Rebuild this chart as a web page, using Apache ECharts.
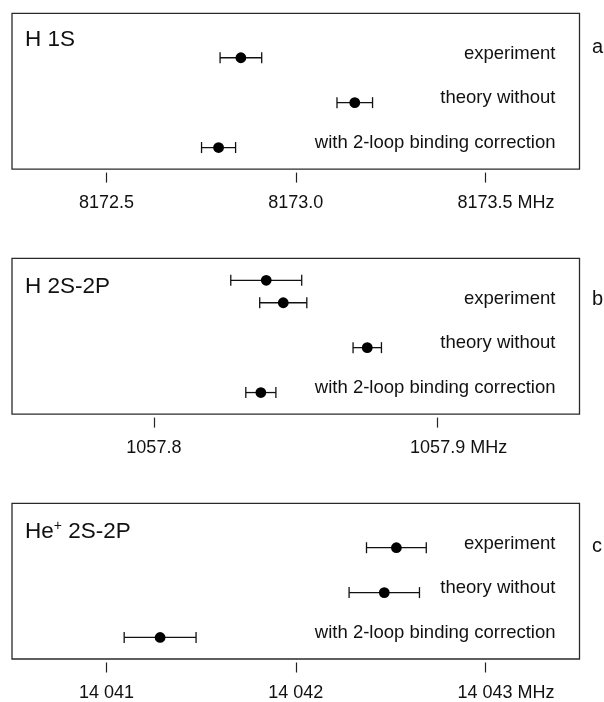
<!DOCTYPE html>
<html>
<head>
<meta charset="utf-8">
<script src="https://cdn.jsdelivr.net/npm/echarts@6/dist/echarts.min.js"></script>
<style>
html,body{margin:0;padding:0;background:#fff;}
#chart{width:604px;height:702px;}
</style>
</head>
<body>
<div id="chart"></div>
<script>
// ---- data ----
const rowLabels = ['experiment', 'theory without', 'with 2-loop binding correction'];
const labelRows = [2, 1, 0];
const unit = 'MHz';

// panel a: H 1S
const aTitle = 'H 1S';
const aRows = [2, 1, 0];
const aValues = [8172.855, 8173.156, 8172.796];
const aErrors = [0.055, 0.047, 0.045];
const aTicks = [8172.5, 8173.0, 8173.5];
const aTickLabels = ['8172.5', '8173.0', '8173.5'];
const aRange = [8172.25, 8173.75];

// panel b: H 2S-2P
const bTitle = 'H 2S-2P';
const bRows = [2.5, 2, 1, 0];
const bValues = [1057.8396, 1057.8456, 1057.8752, 1057.8377];
const bErrors = [0.0125, 0.0083, 0.0050, 0.0053];
const bTicks = [1057.8, 1057.9];
const bTickLabels = ['1057.8', '1057.9'];
const bRange = [1057.75, 1057.95];

// panel c: He+ 2S-2P
const cTitle = 'He{sup|+} 2S-2P';
const cRows = [2, 1, 0];
const cValues = [14042.532, 14042.468, 14041.283];
const cErrors = [0.158, 0.186, 0.190];
const cTicks = [14041, 14042, 14043];
const cTickLabels = ['14 041', '14 042', '14 043'];
const cRange = [14040.5, 14043.5];

const panelLetters = ['a', 'b', 'c'];

// ---- layout / style ----
const FONT = '"Liberation Sans", Arial, Helvetica, sans-serif';
const INK = '#111';
const gridTops = [13.3, 258.3, 503.3];
const gridH = 155.8;
const titleTops = [28.5, 275, 519];
const letterTops = [37.5, 289.5, 536.5];
const rowMin = -0.48, rowMax = 2.99;

const panels = [
  {title: aTitle, rows: aRows, values: aValues, errors: aErrors, ticks: aTicks, tickLabels: aTickLabels, range: aRange},
  {title: bTitle, rows: bRows, values: bValues, errors: bErrors, ticks: bTicks, tickLabels: bTickLabels, range: bRange},
  {title: cTitle, rows: cRows, values: cValues, errors: cErrors, ticks: cTicks, tickLabels: cTickLabels, range: cRange}
];

function renderItem(params, api) {
  const v = api.value(0), e = api.value(1), r = api.value(2);
  const c = api.coord([v, r]);
  const l = api.coord([v - e, r]);
  const h = api.coord([v + e, r]);
  const cap = 5.5;
  const ls = {stroke: INK, lineWidth: 1.3};
  return {type: 'group', children: [
    {type: 'line', shape: {x1: l[0], y1: c[1], x2: h[0], y2: c[1]}, style: ls},
    {type: 'line', shape: {x1: l[0], y1: c[1] - cap, x2: l[0], y2: c[1] + cap}, style: ls},
    {type: 'line', shape: {x1: h[0], y1: c[1] - cap, x2: h[0], y2: c[1] + cap}, style: ls},
    {type: 'circle', shape: {cx: c[0], cy: c[1], r: 5.4}, style: {fill: '#000'}}
  ]};
}

const grid = [], xAxis = [], yAxis = [], series = [], title = [];
panels.forEach((p, i) => {
  grid.push({left: 12, right: 24.5, top: gridTops[i], height: gridH, show: true,
    borderColor: '#2a2a2a', borderWidth: 1.3, backgroundColor: 'transparent', containLabel: false});
  xAxis.push({
    type: 'value', gridIndex: i, min: p.range[0], max: p.range[1], offset: 3.5, position: 'bottom',
    axisLine: {show: false, onZero: false},
    splitLine: {show: false},
    axisTick: {show: true, customValues: p.ticks, length: 10, lineStyle: {color: '#222', width: 1.2}},
    axisLabel: {
      customValues: p.ticks, margin: 21.5, fontSize: 18, color: INK, fontFamily: FONT,
      formatter: function (val) {
        let k = 0, best = Infinity;
        p.ticks.forEach((t, j) => { const d = Math.abs(t - val); if (d < best) { best = d; k = j; } });
        const txt = p.tickLabels[k];
        if (k === p.ticks.length - 1) return '{p| }{n|' + txt + ' ' + unit + '}';
        return txt;
      },
      rich: {
        p: {width: 42, fontSize: 18, fontFamily: FONT},
        n: {fontSize: 18, color: INK, fontFamily: FONT}
      }
    }
  });
  yAxis.push({
    type: 'value', gridIndex: i, min: rowMin, max: rowMax, position: 'right',
    axisLine: {show: false, onZero: false}, axisTick: {show: false}, splitLine: {show: false},
    axisLabel: {
      inside: true, margin: 24, customValues: labelRows, align: 'right',
      fontSize: 18.5, color: INK, fontFamily: FONT, verticalAlign: 'bottom', lineHeight: 8.5,
      formatter: function (val) {
        const k = labelRows.findIndex(r => Math.abs(r - val) < 1e-6);
        return k >= 0 ? rowLabels[k] : '';
      }
    }
  });
  series.push({
    type: 'custom', xAxisIndex: i, yAxisIndex: i, renderItem: renderItem,
    encode: {x: 0, y: 2},
    data: p.values.map((v, j) => [v, p.errors[j], p.rows[j]]),
    silent: true, animation: false
  });
  title.push({
    text: p.title, left: 25, top: titleTops[i], padding: 0,
    textStyle: {fontSize: 22.5, fontWeight: 'normal', color: INK, fontFamily: FONT,
      rich: {sup: {fontSize: 14, color: INK, fontFamily: FONT, padding: [0, 0, 12, 0]}}}
  });
  title.push({
    text: panelLetters[i], left: 592, top: letterTops[i], padding: 0,
    textStyle: {fontSize: 20, fontWeight: 'normal', color: INK, fontFamily: FONT}
  });
});

const chart = echarts.init(document.getElementById('chart'), null, {renderer: 'canvas'});
chart.setOption({
  backgroundColor: '#fff',
  animation: false,
  title: title,
  grid: grid,
  xAxis: xAxis,
  yAxis: yAxis,
  series: series
});
</script>
</body>
</html>
